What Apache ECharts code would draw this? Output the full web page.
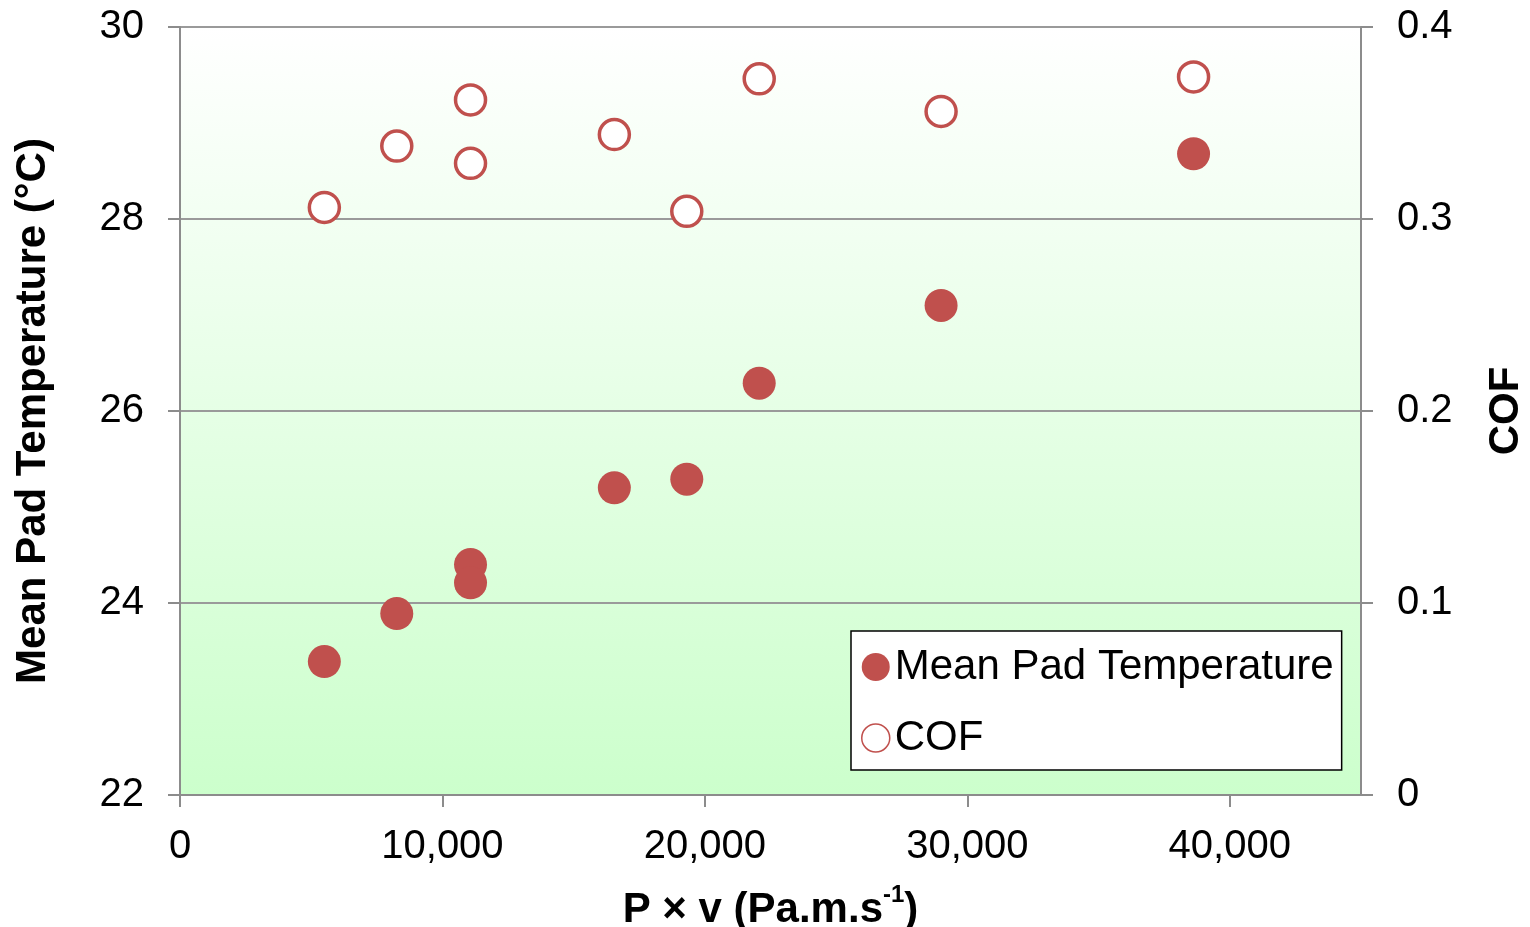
<!DOCTYPE html>
<html>
<head>
<meta charset="utf-8">
<title>Mean Pad Temperature and COF vs P × v</title>
<script src="https://cdn.jsdelivr.net/npm/echarts@6/dist/echarts.min.js"></script>
<style>
  html, body { margin: 0; padding: 0; background: #ffffff; }
  #chart { width: 1530px; height: 927px; }
</style>
</head>
<body>
<div id="chart"></div>
<script>
// P × v (Pa.m.s-1) for each test condition
const pv = [5500, 8260, 11070, 11070, 16550, 19310, 22070, 29000, 38620];
// Mean pad temperature (°C)
const meanPadTemp = [23.39, 23.89, 24.40, 24.21, 25.20, 25.29, 26.29, 27.10, 28.68];
// Coefficient of friction
const cof = [0.306, 0.338, 0.362, 0.329, 0.344, 0.304, 0.373, 0.356, 0.374];

const xTicks = [0, 10000, 20000, 30000, 40000];
const tempTicks = [22, 24, 26, 28, 30];
const cofTicks = [0, 0.1, 0.2, 0.3, 0.4];

const RED = '#c0504d';
const FONT = '"Liberation Sans", Arial, sans-serif';

const chart = echarts.init(document.getElementById('chart'), null, { renderer: 'canvas' });

const tempPoints = pv.map((x, i) => [x, meanPadTemp[i]]);
const cofPoints = pv.map((x, i) => [x, cof[i]]);

const option = {
  animation: false,
  backgroundColor: '#ffffff',
  textStyle: { fontFamily: FONT },
  grid: {
    left: 180, right: 169, top: 27, bottom: 132,
    outerBoundsMode: 'none',
    containLabel: false,
    show: true,
    borderWidth: 0,
    backgroundColor: {
      type: 'linear', x: 0, y: 0, x2: 0, y2: 1,
      colorStops: [
        { offset: 0, color: '#ffffff' },
        { offset: 1, color: '#ccffcc' }
      ]
    }
  },
  legend: {
    orient: 'vertical',
    left: 851, top: 631,
    padding: [15, 8, 11, 10],
    itemGap: 29,
    itemWidth: 28, itemHeight: 28,
    backgroundColor: '#ffffff',
    borderColor: '#000000',
    borderWidth: 1.5,
    borderRadius: 0,
    textStyle: { fontFamily: FONT, fontSize: 42, color: '#000', padding: [0, 0, 0, 0] },
    data: [
      { name: 'Mean Pad Temperature', icon: 'circle' },
      { name: 'COF', icon: 'circle', itemStyle: { color: '#ffffff', borderColor: RED, borderWidth: 1.5 } }
    ]
  },
  xAxis: {
    type: 'value',
    min: 0, max: 45000, interval: 10000,
    name: '{b|P × v (Pa.m.s}{sup|-1}{b|)}',
    nameLocation: 'middle',
    nameGap: 88,
    nameTextStyle: {
      rich: {
        b: { fontFamily: FONT, fontSize: 42, fontWeight: 'bold', color: '#000', verticalAlign: 'bottom', lineHeight: 48 },
        sup: { fontFamily: FONT, fontSize: 24, fontWeight: 'bold', color: '#000', verticalAlign: 'top', padding: [0, 0, 24, 0], lineHeight: 48 }
      }
    },
    axisLine: { show: true, lineStyle: { color: '#8c8c8c', width: 2 } },
    axisTick: { show: true, length: 12, lineStyle: { color: '#8c8c8c', width: 2 },
      customValues: xTicks },
    axisLabel: {
      fontFamily: FONT, fontSize: 40, color: '#000', margin: 32,
      customValues: xTicks,
      formatter: v => v.toLocaleString('en-US')
    },
    splitLine: { show: false }
  },
  yAxis: [
    {
      type: 'value',
      min: 22, max: 30, interval: 2,
      position: 'left',
      name: 'Mean Pad Temperature (°C)',
      nameLocation: 'middle',
      nameRotate: 90,
      nameGap: 126,
      nameTextStyle: { fontFamily: FONT, fontSize: 42, fontWeight: 'bold', color: '#000' },
      axisLine: { show: true, lineStyle: { color: '#8c8c8c', width: 2 } },
      axisTick: { show: true, length: 12, lineStyle: { color: '#8c8c8c', width: 2 }, customValues: tempTicks },
      axisLabel: { fontFamily: FONT, fontSize: 40, color: '#000', margin: 36, customValues: tempTicks },
      splitLine: { show: true, lineStyle: { color: '#9a9a9a', width: 2 } }
    },
    {
      type: 'value',
      min: 0, max: 0.4, interval: 0.1,
      position: 'right',
      name: 'COF',
      nameLocation: 'middle',
      nameRotate: 90,
      nameGap: 124,
      nameTextStyle: { fontFamily: FONT, fontSize: 42, fontWeight: 'bold', color: '#000' },
      axisLine: { show: true, lineStyle: { color: '#8c8c8c', width: 2 } },
      axisTick: { show: true, length: 12, lineStyle: { color: '#8c8c8c', width: 2 }, customValues: cofTicks },
      axisLabel: { fontFamily: FONT, fontSize: 40, color: '#000', margin: 36, customValues: cofTicks,
        formatter: v => v === 0 ? '0' : v.toFixed(1) },
      splitLine: { show: false }
    }
  ],
  series: [
    {
      name: 'Mean Pad Temperature',
      type: 'scatter',
      yAxisIndex: 0,
      symbol: 'circle',
      symbolSize: 33,
      itemStyle: { color: RED, opacity: 1 },
      data: tempPoints,
      z: 3
    },
    {
      name: 'COF',
      type: 'scatter',
      yAxisIndex: 1,
      symbol: 'circle',
      symbolSize: 30,
      itemStyle: { color: '#ffffff', borderColor: RED, borderWidth: 3.5, opacity: 1 },
      data: cofPoints,
      z: 3
    }
  ]
};

chart.setOption(option);
</script>
</body>
</html>
